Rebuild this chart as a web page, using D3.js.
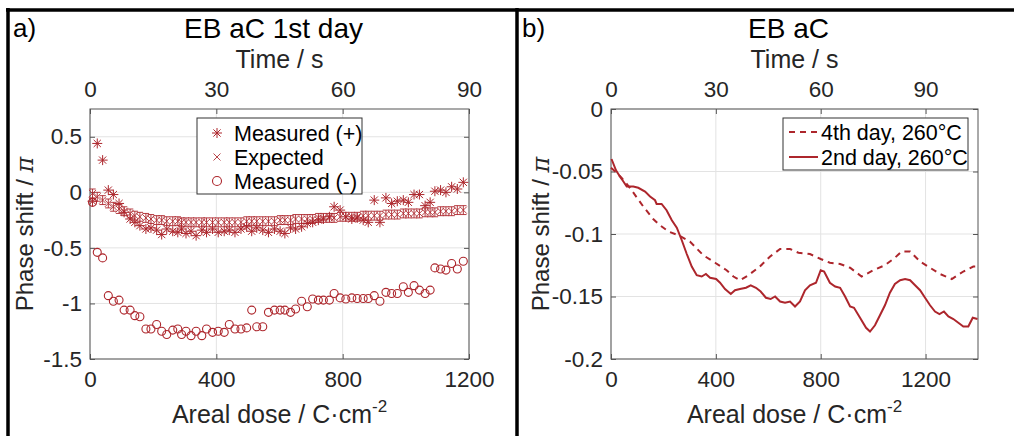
<!DOCTYPE html>
<html>
<head>
<meta charset="utf-8">
<script src="https://cdn.jsdelivr.net/npm/d3@7"></script>
<style>
  body { margin: 0; background: #fff; }
  svg { font-family: "Liberation Sans", Arial, sans-serif; }
</style>
</head>
<body>
<div id="chart"></div>
<script>
// ---- data: panel a) ----
const doseA = [8, 23, 40, 58, 74, 92, 108, 127, 142, 158, 177, 193, 211, 227, 243, 262, 278, 290, 304, 320,
  336, 354, 369, 388, 406, 425, 441, 459, 478, 496, 512, 528, 547, 565, 584, 602, 617, 635, 651, 670,
  688, 705, 723, 739, 758, 773, 792, 810, 829, 846, 865, 881, 900, 918, 937, 955, 973, 992, 1008, 1026,
  1043, 1061, 1077, 1092, 1110, 1127, 1145, 1163, 1182];

const measuredPlus = [-0.08, 0.44, 0.29, 0.02, -0.02, -0.10, -0.18, -0.24, -0.27, -0.30, -0.33, -0.32, -0.34, -0.38, -0.33, -0.35, -0.36, -0.33, -0.37, -0.35,
  -0.39, -0.34, -0.36, -0.33, -0.36, -0.35, -0.34, -0.36, -0.33, -0.31, -0.35, -0.32, -0.34, -0.36, -0.33, -0.35, -0.37, -0.32, -0.33, -0.31,
  -0.28, -0.27, -0.25, -0.24, -0.22, -0.13, -0.16, -0.22, -0.24, -0.23, -0.25, -0.27, -0.07, -0.27, -0.05, -0.10, -0.08, -0.07, -0.09, -0.02,
  -0.02, -0.12, -0.09, 0.01, 0.02, 0.00, 0.05, 0.03, 0.09];

const expected = [-0.01, -0.04, -0.07, -0.10, -0.13, -0.15, -0.17, -0.19, -0.21, -0.22, -0.23, -0.24, -0.25, -0.25, -0.26, -0.26, -0.26, -0.27, -0.27, -0.27,
  -0.27, -0.27, -0.27, -0.27, -0.27, -0.27, -0.27, -0.27, -0.27, -0.26, -0.26, -0.26, -0.26, -0.26, -0.26, -0.25, -0.25, -0.25, -0.24, -0.24,
  -0.24, -0.24, -0.23, -0.23, -0.23, -0.23, -0.22, -0.22, -0.22, -0.22, -0.21, -0.21, -0.21, -0.21, -0.20, -0.20, -0.20, -0.19, -0.19, -0.19,
  -0.19, -0.18, -0.18, -0.18, -0.17, -0.17, -0.17, -0.16, -0.16];
const expectedErr = 0.04;

const measuredMinus = [-0.09, -0.54, -0.59, -0.93, -0.98, -0.97, -1.06, -1.06, -1.11, -1.12, -1.23, -1.23, -1.19, -1.25, -1.28, -1.24, -1.23, -1.28, -1.25, -1.29,
  -1.25, -1.29, -1.23, -1.26, -1.25, -1.26, -1.19, -1.23, -1.23, -1.22, -1.06, -1.21, -1.21, -1.08, -1.06, -1.06, -1.06, -1.08, -1.05, -0.98,
  -1.03, -0.96, -0.97, -0.97, -0.97, -0.91, -0.95, -0.96, -0.95, -0.955, -0.955, -0.955, -0.93, -0.98, -0.90, -0.91, -0.91, -0.85, -0.90, -0.84,
  -0.88, -0.91, -0.88, -0.68, -0.69, -0.70, -0.64, -0.69, -0.62];

// ---- data: panel b) ----
const dose4th = [0, 21, 40, 72, 123, 161, 187, 219, 257, 301, 352, 397, 441, 467, 492, 524, 568, 607, 645, 683,
  715, 759, 800, 835, 874, 912, 956, 1001, 1045, 1083, 1109, 1141, 1179, 1217, 1255, 1300, 1344, 1382, 1400];
const phase4th = [-0.047, -0.051, -0.055, -0.063, -0.078, -0.088, -0.093, -0.098, -0.101, -0.106, -0.117, -0.123, -0.129, -0.134, -0.137, -0.133, -0.126, -0.118, -0.112, -0.112,
  -0.115, -0.116, -0.120, -0.123, -0.124, -0.127, -0.134, -0.129, -0.125, -0.119, -0.114, -0.114, -0.122, -0.127, -0.132, -0.136, -0.130, -0.126, -0.126];

const dose2nd = [2, 19, 37, 44, 60, 85, 104, 130, 149, 168, 174, 193, 212, 232, 251, 270, 289, 308, 327, 346,
  362, 378, 401, 416, 435, 457, 473, 492, 515, 533, 553, 571, 591, 609, 626, 645, 664, 683, 702, 721,
  740, 759, 782, 800, 813, 835, 855, 874, 893, 912, 927, 950, 973, 988, 1007, 1026, 1045, 1064, 1083, 1103,
  1122, 1141, 1160, 1179, 1198, 1217, 1236, 1253, 1270, 1287, 1306, 1325, 1344, 1363, 1380, 1398];
const phase2nd = [-0.040, -0.049, -0.055, -0.057, -0.062, -0.062, -0.063, -0.066, -0.070, -0.073, -0.076, -0.076, -0.081, -0.089, -0.095, -0.105, -0.116, -0.126, -0.133, -0.134,
  -0.132, -0.135, -0.136, -0.139, -0.144, -0.148, -0.145, -0.144, -0.143, -0.141, -0.143, -0.146, -0.151, -0.152, -0.150, -0.154, -0.155, -0.154, -0.158, -0.154,
  -0.145, -0.141, -0.139, -0.129, -0.130, -0.139, -0.142, -0.143, -0.150, -0.158, -0.159, -0.167, -0.175, -0.178, -0.173, -0.165, -0.157, -0.147, -0.140, -0.137,
  -0.136, -0.137, -0.141, -0.145, -0.151, -0.157, -0.162, -0.164, -0.162, -0.166, -0.168, -0.171, -0.174, -0.174, -0.167, -0.168];

// ticks
const doseTicksA = [0, 400, 800, 1200];
const doseTicksB = [0, 400, 800, 1200];
const timeTicks = [0, 30, 60, 90];
const phaseTicksA = [0.5, 0, -0.5, -1, -1.5];
const phaseTicksB = [0, -0.05, -0.1, -0.15, -0.2];

const red = "#ad262c";
const W = 1014, H = 436;

const svg = d3.select("#chart").append("svg")
    .attr("width", W)
    .attr("height", H);

// outer frame (table borders)
svg.append("line").attr("x1", 6).attr("x2", W).attr("y1", 10).attr("y2", 10)
    .attr("stroke", "#000").attr("stroke-width", 3.5);
[8, 517].forEach(x => {
    svg.append("line").attr("x1", x).attr("x2", x).attr("y1", 8).attr("y2", H)
        .attr("stroke", "#000").attr("stroke-width", 3.5);
});

// --- panel builder ---
function makePanel(cfg) {
    const x = d3.scaleLinear().domain(cfg.xDomain).range([cfg.left, cfg.right]);
    const xt = d3.scaleLinear().domain(cfg.tDomain).range([cfg.left, cfg.right]);
    const y = d3.scaleLinear().domain(cfg.yDomain).range([cfg.bottom, cfg.top]);
    const g = svg.append("g");

    // grid
    g.append("g").selectAll("line").data(cfg.xTicks).join("line")
        .attr("x1", d => x(d)).attr("x2", d => x(d))
        .attr("y1", cfg.top).attr("y2", cfg.bottom)
        .attr("stroke", "#e3e3e3").attr("stroke-width", 1);
    g.append("g").selectAll("line").data(cfg.yTicks).join("line")
        .attr("x1", cfg.left).attr("x2", cfg.right)
        .attr("y1", d => y(d)).attr("y2", d => y(d))
        .attr("stroke", "#e3e3e3").attr("stroke-width", 1);

    // axes (ticks inward, MATLAB style)
    const style = sel => {
        sel.select(".domain").remove();
        sel.selectAll("line").attr("stroke", "#555");
        sel.selectAll("text").attr("fill", "#262626").style("font-size", "22.5px");
    };
    g.append("g").attr("transform", `translate(0,${cfg.bottom})`)
        .call(d3.axisBottom(x).tickValues(cfg.xTicks).tickSize(-5).tickPadding(12).tickFormat(d => String(d)))
        .call(style);
    g.append("g").attr("transform", `translate(0,${cfg.top})`)
        .call(d3.axisTop(xt).tickValues(timeTicks).tickSize(-5).tickPadding(12).tickFormat(d => String(d)))
        .call(style);
    g.append("g").attr("transform", `translate(${cfg.left},0)`)
        .call(d3.axisLeft(y).tickValues(cfg.yTicks).tickSize(-5).tickPadding(8).tickFormat(d => String(d)))
        .call(style);
    g.append("g").attr("transform", `translate(${cfg.right},0)`)
        .call(d3.axisRight(y).tickValues(cfg.yTicks).tickSize(-5).tickFormat(""))
        .call(style);

    g.append("rect")
        .attr("x", cfg.left).attr("y", cfg.top)
        .attr("width", cfg.right - cfg.left).attr("height", cfg.bottom - cfg.top)
        .attr("fill", "none").attr("stroke", "#555").attr("stroke-width", 1);

    // labels
    const cx = (cfg.left + cfg.right) / 2;
    svg.append("text").attr("x", cfg.letterX).attr("y", 37)
        .style("font-size", "26px").text(cfg.letter);
    svg.append("text").attr("x", cx - 6).attr("y", 38).attr("text-anchor", "middle")
        .style("font-size", "28px").text(cfg.title);
    svg.append("text").attr("x", cx).attr("y", 68).attr("text-anchor", "middle")
        .style("font-size", "25px").attr("fill", "#262626").text("Time / s");

    const xl = svg.append("text").attr("x", cx).attr("y", 423).attr("text-anchor", "middle")
        .style("font-size", "25px").attr("fill", "#262626");
    xl.append("tspan").text("Areal dose / C\u00B7cm");
    xl.append("tspan").attr("dy", -11).style("font-size", "17px").text("-2");

    const yl = svg.append("text")
        .attr("transform", `translate(${cfg.yLabelX},${(cfg.top + cfg.bottom) / 2}) rotate(-90)`)
        .attr("text-anchor", "middle").style("font-size", "24px").attr("fill", "#262626");
    yl.append("tspan").text("Phase shift / ");
    yl.append("tspan").style("font-style", "italic").style("font-family", "DejaVu Serif, serif").text("\u03C0");

    return { g, x, y };
}

// ---- panel a) ----
const pa = makePanel({
    left: 90, right: 469, top: 109, bottom: 359,
    xDomain: [0, 1200], tDomain: [0, 90], yDomain: [-1.5, 0.75],
    xTicks: doseTicksA, yTicks: phaseTicksA,
    letter: "a)", letterX: 13, title: "EB aC 1st day", yLabelX: 33
});

const ptsA = doseA.map((d, i) => ({ d, plus: measuredPlus[i], exp: expected[i], minus: measuredMinus[i] }));

function asterisk(g, cx, cy, s) {
    const k = s * 0.72;
    const p = `M${cx - s},${cy}H${cx + s}M${cx},${cy - s}V${cy + s}` +
        `M${cx - k},${cy - k}L${cx + k},${cy + k}M${cx - k},${cy + k}L${cx + k},${cy - k}`;
    g.append("path").attr("d", p).attr("stroke", red).attr("stroke-width", 1).attr("fill", "none");
}
function cross(g, cx, cy, s) {
    g.append("path").attr("d", `M${cx - s},${cy - s}L${cx + s},${cy + s}M${cx - s},${cy + s}L${cx + s},${cy - s}`)
        .attr("stroke", red).attr("stroke-width", 1).attr("fill", "none").attr("opacity", 0.85);
}

const markA = pa.g.append("g");
// expected with error bars
ptsA.forEach(p => {
    const xx = pa.x(p.d), y1 = pa.y(p.exp + expectedErr), y2 = pa.y(p.exp - expectedErr);
    markA.append("path")
        .attr("d", `M${xx},${y1}V${y2}M${xx - 3.2},${y1}H${xx + 3.2}M${xx - 3.2},${y2}H${xx + 3.2}`)
        .attr("stroke", red).attr("stroke-width", 1).attr("fill", "none").attr("opacity", 0.9);
    cross(markA, xx, pa.y(p.exp), 3.5);
});
ptsA.forEach(p => asterisk(markA, pa.x(p.d), pa.y(p.plus), 5));
markA.selectAll("circle").data(ptsA).join("circle")
    .attr("cx", p => pa.x(p.d)).attr("cy", p => pa.y(p.minus)).attr("r", 4)
    .attr("fill", "none").attr("stroke", red).attr("stroke-width", 1.1);

// legend a)
const lgA = svg.append("g");
lgA.append("rect").attr("x", 197).attr("y", 118).attr("width", 165).attr("height", 76)
    .attr("fill", "#fff").attr("stroke", "#333").attr("stroke-width", 1);
const legendA = ["Measured (+)", "Expected", "Measured (-)"];
legendA.forEach((t, i) => {
    const yy = 133 + i * 24;
    if (i === 0) asterisk(lgA, 217, yy, 5);
    if (i === 1) cross(lgA, 217, yy, 3.5);
    if (i === 2) lgA.append("circle").attr("cx", 217).attr("cy", yy).attr("r", 4.5)
        .attr("fill", "none").attr("stroke", red).attr("stroke-width", 1.1);
    lgA.append("text").attr("x", 234).attr("y", yy).attr("dy", "0.35em")
        .style("font-size", "21.5px").attr("fill", "#000").text(t);
});

// ---- panel b) ----
const pb = makePanel({
    left: 611, right: 978, top: 109, bottom: 359,
    xDomain: [0, 1400], tDomain: [0, 105], yDomain: [-0.2, 0],
    xTicks: doseTicksB, yTicks: phaseTicksB,
    letter: "b)", letterX: 522, title: "EB aC", yLabelX: 549
});

const line = d3.line().x(d => pb.x(d[0])).y(d => pb.y(d[1]));
pb.g.append("path").datum(dose4th.map((d, i) => [d, phase4th[i]]))
    .attr("d", line).attr("fill", "none").attr("stroke", red)
    .attr("stroke-width", 2).attr("stroke-dasharray", "6,5");
pb.g.append("path").datum(dose2nd.map((d, i) => [d, phase2nd[i]]))
    .attr("d", line).attr("fill", "none").attr("stroke", red)
    .attr("stroke-width", 2);

// legend b)
const lgB = svg.append("g");
lgB.append("rect").attr("x", 783).attr("y", 118).attr("width", 185).attr("height", 52)
    .attr("fill", "#fff").attr("stroke", "#333").attr("stroke-width", 1);
const legendB = ["4th day, 260\u00B0C", "2nd day, 260\u00B0C"];
legendB.forEach((t, i) => {
    const yy = 132 + i * 25;
    lgB.append("line").attr("x1", 789).attr("x2", 818).attr("y1", yy).attr("y2", yy)
        .attr("stroke", red).attr("stroke-width", 2)
        .attr("stroke-dasharray", i === 0 ? "6,5" : null);
    lgB.append("text").attr("x", 821).attr("y", yy).attr("dy", "0.35em")
        .style("font-size", "21.5px").attr("fill", "#000").text(t);
});
</script>
</body>
</html>
